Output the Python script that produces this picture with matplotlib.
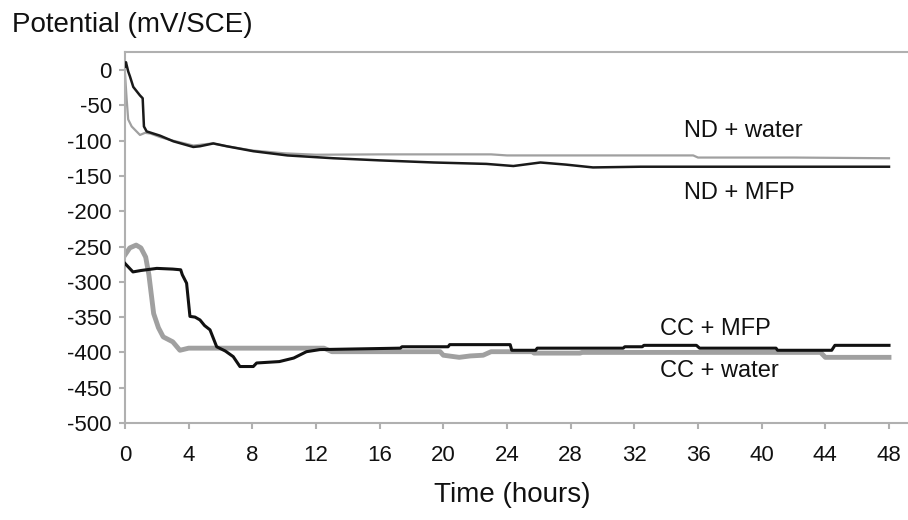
import matplotlib
matplotlib.use('Agg')
import matplotlib.pyplot as plt

plt.rcParams['font.family'] = ['Liberation Sans', 'DejaVu Sans']
plt.rcParams['axes.unicode_minus'] = False

# ND + water (grey, thin)
nd_water_t = [0, 0.1, 0.2, 0.42, 0.94, 1.26, 1.6, 2.2, 3.0, 4.3, 5.5, 6.4, 8.0, 10.0, 12.0,
              16, 23, 24, 30, 35.7, 36, 42, 48]
nd_water_v = [-5, -40, -70, -80, -92, -89, -90, -95, -100, -107, -104, -108, -114, -118, -120,
              -119.5, -119.5, -121, -121, -121, -124, -124, -125]

# ND + MFP (black, thin)
nd_mfp_t = [0, 0.06, 0.2, 0.31, 0.52, 0.94, 1.11, 1.19, 1.36, 2.2, 3.04, 4.29, 4.71, 5.55, 6.39,
            8.06, 10.2, 13.1, 16, 19.4, 22.7, 24.4, 26.1, 27.7, 29.4, 32.4, 40, 48]
nd_mfp_v = [5, 11, -2, -9, -24, -36, -40, -80, -87, -93, -101, -109, -108, -104, -108,
            -115, -121, -125, -128, -131, -133, -136, -131, -134, -138, -137, -137, -137]

# CC + water (grey, thick)
cc_water_t = [0, 0.3, 0.7, 1.0, 1.3, 1.5, 1.8, 2.1, 2.4, 3.0, 3.45, 4.0, 12.5, 13.0, 19.8,
              20.0, 21.0, 21.7, 22.5, 23.0, 25.6, 25.7, 28.6, 28.7, 43.7, 44.0, 48]
cc_water_v = [-262, -252, -248, -252, -265, -290, -345, -365, -378, -385, -397, -394, -394, -399, -399,
              -404, -407, -405, -404, -399, -399, -401, -401, -400, -400, -407, -407]

# CC + MFP (black)
cc_mfp_t = [0, 0.5, 1.0, 2.0, 3.0, 3.5, 3.6, 3.87, 4.08, 4.4, 4.71, 5.0, 5.34, 5.76, 6.3,
            6.8, 7.22, 8.06, 8.27, 9.7, 10.6, 11.4, 12.25, 17.3, 17.4, 20.3, 20.4, 24.2, 24.3,
            25.8, 25.9, 31.3, 31.4, 32.5, 32.6, 35.9, 36.1, 40.9, 41.0, 44.4, 44.6, 48]
cc_mfp_v = [-274, -286, -284, -281, -282, -283, -290, -302, -349, -350, -354, -362, -368, -392, -398,
            -406, -420, -420, -415, -413, -408, -399, -396, -394, -392, -392, -389, -389, -397,
            -397, -394, -394, -392, -392, -390, -390, -394, -394, -397, -397, -390, -390]

labels = ['ND + water', 'ND + MFP', 'CC + MFP', 'CC + water']
label_t = [35.1, 35.1, 33.6, 33.6]
label_v = [-86, -174, -367, -426]

fig = plt.figure(figsize=(9.08, 5.2), dpi=100)
ax = fig.add_axes([125 / 908, 1 - 423 / 520, (908 - 125) / 908, (423 - 52) / 520])

ax.plot(nd_water_t, nd_water_v, color='#a0a0a0', lw=1.6, zorder=2)
ax.plot(nd_mfp_t, nd_mfp_v, color='#1a1a1a', lw=1.8, zorder=3)
ax.plot(cc_water_t, cc_water_v, color='#a0a0a0', lw=3.5, zorder=2)
ax.plot(cc_mfp_t, cc_mfp_v, color='#111111', lw=2.2, zorder=3)

for s, t, v in zip(labels, label_t, label_v):
    ax.text(t, v, s, fontsize=17, ha='left', va='center', color='#111111')

ax.set_xlim(0, (908 - 125) / ((889 - 125) / 48))
ax.set_ylim(-500, 25.5)
ax.set_xticks(range(0, 49, 4))
ax.set_yticks(range(-500, 1, 50))

ax.spines['right'].set_visible(False)
for side in ['left', 'bottom', 'top']:
    ax.spines[side].set_color('#b0b0b0')
    ax.spines[side].set_linewidth(1.5)

ax.tick_params(axis='both', colors='#b0b0b0', labelcolor='#111111', length=4.5, width=1.5,
               labelsize=16)
ax.tick_params(axis='x', pad=11)
ax.tick_params(axis='y', pad=5)

fig.text(12 / 908, 1 - 25 / 520, 'Potential (mV/SCE)', fontsize=20, ha='left', va='center',
         color='#111111')
fig.text(512 / 908, 1 - 495 / 520, 'Time (hours)', fontsize=20, ha='center', va='center',
         color='#111111')

fig.savefig('out.png', dpi=100)
